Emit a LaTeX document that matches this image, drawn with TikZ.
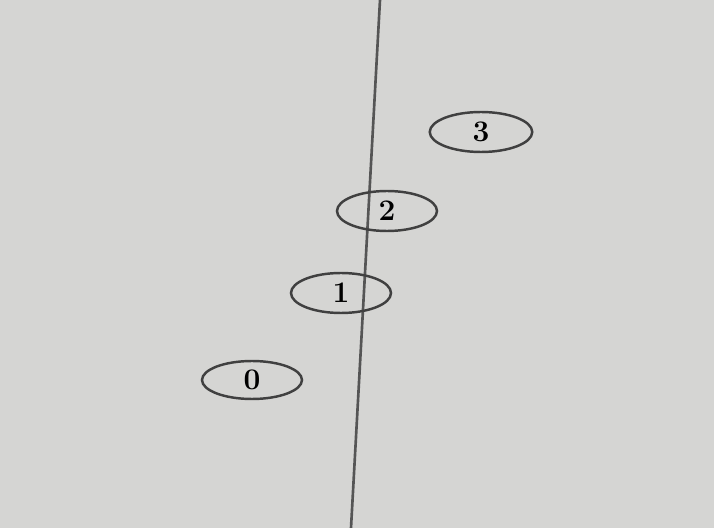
\documentclass[tikz,border=0pt]{standalone}
\usepackage{tikz}
\usetikzlibrary{shapes.geometric}
\definecolor{paper}{RGB}{213,213,211}
\definecolor{pencil}{RGB}{85,85,85}

\begin{document}
\begin{tikzpicture}[
        bead/.style={ellipse, draw=pencil!75!black, line width=1.4pt, minimum width=2cm, minimum height=0.8cm, inner sep=0pt, font=\fontsize{17}{20}\selectfont\bfseries},
        axis/.style={draw=pencil, line width=1.5pt}
    ]

    % Paper
    \fill[paper] (0,0) rectangle (14.28,10.56);
    \useasboundingbox (0,0) rectangle (14.28,10.56);

    % Line
    \coordinate (top) at (7.60, 10.56);
    \coordinate (bottom) at (7.02, 0);
    \draw[axis] (top) -- (bottom);

    % Numbered ellipses
    \node[bead, minimum width=2.05cm] (three) at (9.62, 7.92) {3};
    \node[bead] (two) at (7.74, 6.34) {2};
    \node[bead] (one) at (6.82, 4.70) {1};
    \node[bead, minimum height=0.76cm] (zero) at (5.04, 2.96) {0};

\end{tikzpicture}
\end{document}
